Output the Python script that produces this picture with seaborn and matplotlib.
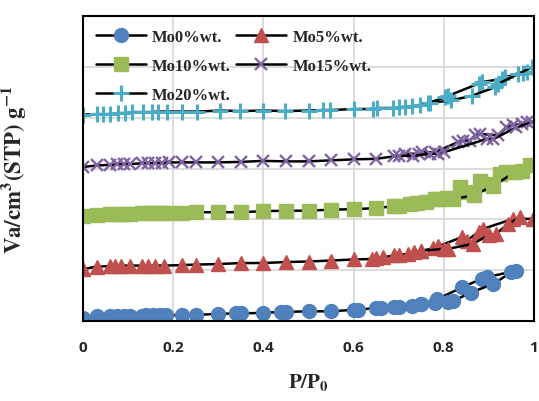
import matplotlib
matplotlib.use("Agg")
import matplotlib.pyplot as plt
import seaborn as sns
import pandas as pd

sns.set_theme(style="white")
plt.rcParams['mathtext.fontset'] = 'stix'

# ---------------- data (P/P0, adsorbed volume in gridline units) ----------------
mo0_ads_p = [0, .03, .06, .075, .09, .105, .13, .14, .155, .17, .185, .22, .25, .30, .34, .35, .40, .44, .45, .50,
             .55, .60, .61, .65, .66, .69, .70, .73, .75, .78, .81, .82, .86, .91, .95]
mo0_ads_v = [.05, .09, .10, .10, .10, .10, .10, .11, .11, .11, .11, .12, .12, .14, .15, .15, .16, .18, .18, .19,
             .19, .22, .22, .26, .26, .27, .28, .30, .33, .35, .38, .39, .56, .73, .96]
mo0_des_p = [.96, .895, .884, .84, .786, .75]
mo0_des_v = [.99, .86, .83, .66, .43, .33]

mo5_ads_p = [0, .03, .06, .07, .085, .105, .13, .145, .16, .18, .22, .25, .30, .35, .40, .45, .50, .55, .60, .64,
             .65, .665, .69, .70, .72, .735, .75, .80, .81, .865, .90, .915, .943, .969]
mo5_ads_v = [1.02, 1.07, 1.08, 1.08, 1.09, 1.09, 1.09, 1.09, 1.09, 1.09, 1.10, 1.11, 1.12, 1.14, 1.14, 1.16, 1.17,
             1.19, 1.21, 1.22, 1.23, 1.25, 1.29, 1.30, 1.32, 1.35, 1.38, 1.42, 1.42, 1.52, 1.69, 1.71, 1.91, 2.04]
mo5_des_p = [.998, .954, .886, .877, .851, .84, .788, .777, .75]
mo5_des_v = [2.01, 2.01, 1.81, 1.75, 1.58, 1.65, 1.47, 1.43, 1.38]

mo10_ads_p = [0, .03, .06, .075, .09, .105, .13, .145, .16, .175, .19, .22, .25, .30, .35, .40, .45, .50, .55, .60,
              .65, .69, .70, .725, .74, .76, .78, .79, .82, .866, .91, .958, .991]
mo10_ads_v = [2.07, 2.09, 2.10, 2.10, 2.11, 2.11, 2.12, 2.12, 2.12, 2.13, 2.13, 2.13, 2.14, 2.14, 2.14, 2.16, 2.17,
              2.17, 2.19, 2.20, 2.22, 2.26, 2.27, 2.30, 2.32, 2.35, 2.40, 2.40, 2.40, 2.47, 2.66, 2.93, 3.06]
mo10_des_p = [.973, .939, .925, .895, .88, .851, .836, .806]
mo10_des_v = [2.96, 2.93, 2.89, 2.70, 2.76, 2.53, 2.63, 2.42]

mo15_ads_p = [0, .03, .06, .075, .09, .105, .13, .145, .16, .175, .19, .22, .25, .30, .35, .40, .45, .50, .55, .60,
              .65, .69, .70, .732, .769, .788, .80, .895, .91, .961, .995]
mo15_ads_v = [3.03, 3.06, 3.07, 3.08, 3.09, 3.09, 3.10, 3.10, 3.11, 3.11, 3.12, 3.12, 3.12, 3.12, 3.13, 3.15, 3.14,
              3.14, 3.16, 3.18, 3.19, 3.24, 3.25, 3.25, 3.29, 3.29, 3.32, 3.58, 3.58, 3.81, 3.91]
mo15_des_p = [.984, .973, .954, .939, .921, .88, .869, .858, .843, .832, .78, .751, .744, .714]
mo15_des_v = [3.91, 3.88, 3.85, 3.81, 3.65, 3.68, 3.65, 3.55, 3.55, 3.52, 3.32, 3.32, 3.29, 3.29]

mo20_ads_p = [0, .03, .045, .06, .078, .093, .108, .134, .152, .167, .186, .219, .253, .304, .348, .40, .448, .50,
              .533, .548, .60, .644, .651, .688, .70, .714, .729, .747, .769, .817, .862, .914, .921, .965, .995]
mo20_ads_v = [4.06, 4.07, 4.07, 4.07, 4.09, 4.09, 4.11, 4.11, 4.11, 4.12, 4.12, 4.12, 4.12, 4.14, 4.13, 4.14, 4.13,
              4.14, 4.15, 4.15, 4.17, 4.17, 4.19, 4.19, 4.21, 4.21, 4.23, 4.25, 4.29, 4.34, 4.43, 4.60, 4.67, 4.86, 4.99]
mo20_des_p = [.984, .976, .936, .928, .884, .877, .81, .803, .766]
mo20_des_v = [4.90, 4.88, 4.80, 4.76, 4.70, 4.67, 4.43, 4.40, 4.29]

labels = ["Mo0%wt.", "Mo5%wt.", "Mo10%wt.", "Mo15%wt.", "Mo20%wt."]
colors = ["#4F81BD", "#C0504D", "#9BBB59", "#8064A2", "#4BACC6"]
markers = ["o", "^", "s", "x", "+"]
msizes = [10, 10, 10, 9, 11]
mews = [1, 1, 1, 1.7, 2.2]
xticks = [0, 0.2, 0.4, 0.6, 0.8, 1]
xticklabels = ["0", "0.2", "0.4", "0.6", "0.8", "1"]

series = [
    (mo0_ads_p, mo0_ads_v, mo0_des_p, mo0_des_v),
    (mo5_ads_p, mo5_ads_v, mo5_des_p, mo5_des_v),
    (mo10_ads_p, mo10_ads_v, mo10_des_p, mo10_des_v),
    (mo15_ads_p, mo15_ads_v, mo15_des_p, mo15_des_v),
    (mo20_ads_p, mo20_ads_v, mo20_des_p, mo20_des_v),
]

fig = plt.figure(figsize=(5.39, 4.02), dpi=100)
ax = fig.add_axes([83 / 539, 1 - 322 / 402, (534 - 83) / 539, (322 - 17) / 402])

for i, (ap, av, dp, dv) in enumerate(series):
    kw = dict(color="black", linewidth=1.8, marker=markers[i], markersize=msizes[i],
              markerfacecolor=colors[i], markeredgecolor=colors[i], markeredgewidth=mews[i], ax=ax)
    sns.lineplot(x=dp, y=dv, sort=False, **kw)
    sns.lineplot(x=ap, y=av, sort=False, label=labels[i], **kw)

ax.set_xlim(0, 1)
ax.set_ylim(0, 6)
ax.set_xticks(xticks)
ax.set_xticklabels(xticklabels)
ax.set_yticks(range(0, 7))
ax.set_yticklabels([])
ax.grid(True, color="#d9d9d9", linewidth=1.3)
ax.set_axisbelow(True)
for s in ax.spines.values():
    s.set_color("black")
    s.set_linewidth(1.5)
ax.tick_params(axis="both", length=0)
ax.tick_params(axis="x", pad=14)
for t in ax.get_xticklabels():
    t.set_fontweight("bold")
    t.set_fontsize(11)
    t.set_family(["Open Sans", "DejaVu Sans"])

ax.set_xlabel(r"$\mathbf{P/P_0}$", fontsize=15, labelpad=12)
ax.set_ylabel(r"$\mathbf{Va/cm^3(STP)\ g^{-1}}$", fontsize=16.5, labelpad=36)

handles, labs = ax.get_legend_handles_labels()
order = [0, 2, 4, 1, 3]
ax.legend([handles[k] for k in order], [labs[k] for k in order],
          loc="upper left", bbox_to_anchor=(0.0, 1.0), ncol=2, frameon=False,
          handlelength=3.0, handletextpad=0.4, columnspacing=0.3, labelspacing=0.8,
          borderpad=0.0, borderaxespad=0.75,
          prop={"family": "Liberation Serif", "weight": "bold", "size": 12})

fig.savefig("out.png", dpi=100)
